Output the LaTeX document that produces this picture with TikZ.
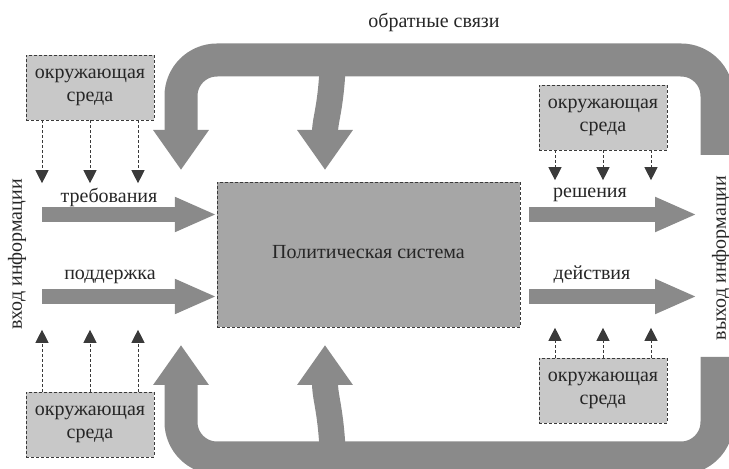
\documentclass[tikz,border=0pt]{standalone}
\usepackage{fontspec}
\setmainfont{Liberation Serif}
\usetikzlibrary{arrows.meta, positioning}
\definecolor{bandgray}{HTML}{8A8A8A}
\definecolor{sysgray}{HTML}{A6A6A6}
\definecolor{envgray}{HTML}{C8C8C8}
\definecolor{tipgray}{HTML}{3A3A3A}

\begin{document}
\begin{tikzpicture}[x=1pt, y=1pt, on grid,
    every node/.style={font=\fontsize{20}{23}\selectfont, text=black!85},
    sysbox/.style={draw=tipgray, densely dashed, fill=sysgray, minimum width=303pt, minimum height=145pt},
    envbox/.style={draw=tipgray, densely dashed, fill=envgray, minimum width=128pt, minimum height=65pt, align=center, inner sep=2pt},
    envarrow/.style={draw=tipgray, densely dashed, line width=0.7pt, -{Triangle[length=13pt,width=13pt]}},
    flow/.style={draw=bandgray, line width=15pt, -{Triangle[length=42pt,width=32pt]}},
    fb/.style={draw=bandgray, line width=33pt, rounded corners=36pt, -{Triangle[length=40pt,width=53pt]}},
    branch/.style={draw=bandgray, line width=26pt, -{Triangle[length=40pt,width=53pt]}}]
    \useasboundingbox (0,0) rectangle (729,469);
    \node[sysbox] (sys) at (368.5,214.5) {\raisebox{6pt}{Политическая система}};
    \node[envbox] (envTL) [above left=167pt and 278.5pt of sys] {окружающая\\среда};
    \node[envbox] (envBL) [below left=170pt and 278.5pt of sys] {окружающая\\среда};
    \node[envbox] (envTR) [above right=137pt and 234.5pt of sys] {окружающая\\среда};
    \node[envbox] (envBR) [below right=136pt and 234.5pt of sys] {окружающая\\среда};
    \coordinate (retTop) at (717,314);
    \coordinate (retBot) at (717,112);
    \coordinate (fbA) at (181,299);
    \coordinate (fbB) at (325,299);
    \coordinate (fbC) at (181,124);
    \coordinate (fbD) at (325,124);
    \draw[fb] (retTop) -- ++(0,95) -| (fbA);
    \draw[branch] (333,409) .. controls (331,360) and (325,350) .. (fbB);
    \draw[fb] (retBot) -- ++(0,-101) -| (fbC);
    \draw[branch] (333,11) .. controls (331,60) and (325,70) .. (fbD);
    \coordinate (inA) at (42,254.5);
    \coordinate (inB) at (42,172.5);
    \coordinate (outA) at (697,254.5);
    \coordinate (outB) at (697,172.5);
    \draw[flow] (inA) -- (inA -| sys.west);
    \draw[flow] (inB) -- (inB -| sys.west);
    \draw[flow] ([xshift=9pt]sys.east |- outA) -- (outA);
    \draw[flow] ([xshift=9pt]sys.east |- outB) -- (outB);
    \foreach \dx in {-48,0,48} {
        \draw[envarrow] ([xshift=\dx pt]envTL.south) -- ([xshift=\dx pt, yshift=-63pt]envTL.south);
        \draw[envarrow] ([xshift=\dx pt]envTR.south) -- ([xshift=\dx pt, yshift=-30pt]envTR.south);
        \draw[envarrow] ([xshift=\dx pt]envBL.north) -- ([xshift=\dx pt, yshift=62pt]envBL.north);
        \draw[envarrow] ([xshift=\dx pt]envBR.north) -- ([xshift=\dx pt, yshift=30pt]envBR.north);
    }
    \node (dem) at (109,272) {требования};
    \node (supp) at (110,192) {поддержка};
    \node (dec) at (590,274) {решения};
    \node (act) at (592,194) {действия};
    \node (fbl) at (434,447) {обратные связи};
    \node[rotate=90] (inl) at (17,214.5) {вход информации};
    \node[rotate=90] (outl) at (721,211) {выход информации};
\end{tikzpicture}
\end{document}
